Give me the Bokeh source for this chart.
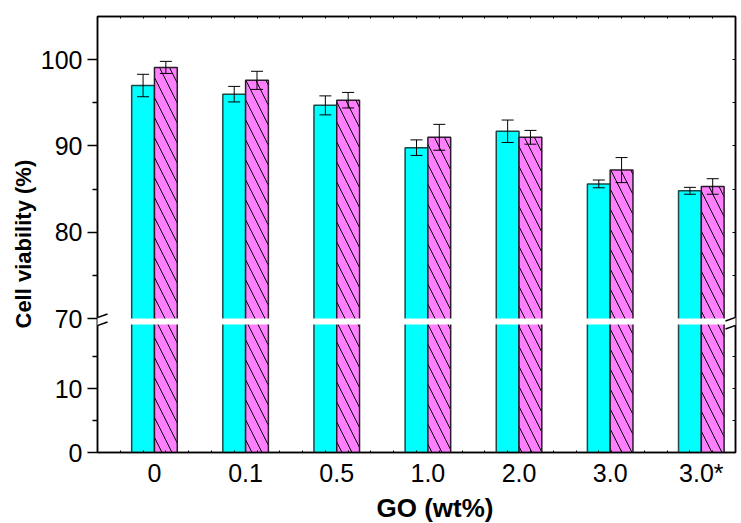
from bokeh.plotting import figure
from bokeh.models import (Range1d, LinearAxis, FixedTicker, CustomJSTickFormatter,
                          ColumnDataSource, Whisker, TeeHead, PolyAnnotation, Arrow, Title)
from bokeh.embed import file_html
from bokeh.resources import INLINE

# ---------------- data ----------------
categories = ["0", "0.1", "0.5", "1.0", "2.0", "3.0", "3.0*"]
cyan_vals = [97.0, 96.0, 94.7, 89.8, 91.7, 85.6, 84.8]
cyan_err = [1.3, 0.9, 1.1, 0.9, 1.3, 0.45, 0.4]
mag_vals = [99.1, 97.6, 95.3, 91.0, 91.0, 87.2, 85.3]
mag_err = [0.7, 1.05, 0.9, 1.5, 0.8, 1.45, 0.9]

upper_ticks = [70, 80, 90, 100]
upper_minor = [75, 85, 95]
lower_ticks = [0, 10]
lower_minor = [5, 15]

x_title = "GO (wt%)"
y_title = "Cell viability (%)"

# ---------------- broken-axis geometry ----------------
UP_MIN, UP_MAX = 70, 105
LOW_MIN, LOW_MAX = 0, 20
FRAME_W, FRAME_H = 638, 436
UP_PX, LOW_PX, GAP_PX = 302, 128, 6

up_per_px = (UP_MAX - UP_MIN) / UP_PX
low_per_px = (LOW_MAX - LOW_MIN) / LOW_PX
y_lo = UP_MIN - (LOW_PX + GAP_PX) * up_per_px
low_hi = LOW_MAX + (GAP_PX + UP_PX) * low_per_px


def low_to_up(v):
    return y_lo + (v - LOW_MIN) / low_per_px * up_per_px


X0, X1 = 0.375, len(categories) + 0.375
BW = 0.25
xs = list(range(1, len(categories) + 1))
x_per_px = (X1 - X0) / FRAME_W

FONT = "Liberation Sans"

p = figure(x_range=Range1d(X0, X1), y_range=Range1d(y_lo, UP_MAX),
           frame_width=FRAME_W, frame_height=FRAME_H,
           min_border_left=97, min_border_top=16, min_border_right=6,
           min_border_bottom=70,
           x_axis_location=None, y_axis_location=None,
           output_backend="svg", toolbar_location=None)
p.extra_y_ranges = {"low": Range1d(LOW_MIN, low_hi)}
p.grid.visible = False
p.outline_line_color = "black"
p.outline_line_width = 1.5
p.background_fill_color = "white"
p.border_fill_color = "white"

cyan_src = ColumnDataSource(dict(
    x=[x - BW / 2 for x in xs], top=cyan_vals,
    upper=[v + e for v, e in zip(cyan_vals, cyan_err)],
    lower=[v - e for v, e in zip(cyan_vals, cyan_err)]))
mag_src = ColumnDataSource(dict(
    x=[x + BW / 2 for x in xs], top=mag_vals,
    upper=[v + e for v, e in zip(mag_vals, mag_err)],
    lower=[v - e for v, e in zip(mag_vals, mag_err)]))

gap_low_top = LOW_MAX + GAP_PX * low_per_px   # low-range value of the upper segment's bottom

cyan_line = "#1d4848"
mag_line = "#2a1a2a"
HATCH = dict(hatch_pattern="\\", hatch_color="black", hatch_weight=1, hatch_scale=20)
# lower segment bars
p.vbar(x="x", width=BW, bottom=LOW_MIN, top=gap_low_top - GAP_PX * low_per_px / 2,
       source=cyan_src, y_range_name="low",
       fill_color="#00FFFF", line_color=cyan_line, line_width=1.5)
p.vbar(x="x", width=BW, bottom=LOW_MIN, top=gap_low_top - GAP_PX * low_per_px / 2,
       source=mag_src, y_range_name="low",
       fill_color="#FF80FF", line_color=mag_line, line_width=1.5, **HATCH)
# upper segment bars
p.vbar(x="x", width=BW, bottom=UP_MIN - GAP_PX * up_per_px / 2, top="top",
       source=cyan_src,
       fill_color="#00FFFF", line_color=cyan_line, line_width=1.5)
p.vbar(x="x", width=BW, bottom=UP_MIN - GAP_PX * up_per_px / 2, top="top",
       source=mag_src,
       fill_color="#FF80FF", line_color=mag_line, line_width=1.5, **HATCH)
# white gap of the axis break
p.quad(left=X0, right=X1, bottom=LOW_MAX, top=gap_low_top, y_range_name="low",
       fill_color="white", line_color=None)

for src in (cyan_src, mag_src):
    w = Whisker(source=src, base="x", upper="upper", lower="lower",
                line_color="black", line_width=1,
                upper_head=TeeHead(size=12, line_color="black", line_width=1),
                lower_head=TeeHead(size=12, line_color="black", line_width=1),
                level="overlay")
    p.add_layout(w)

# ---------------- axes ----------------
fmt = CustomJSTickFormatter(
    args=dict(y0=y_lo, s=low_per_px / up_per_px, brk=(UP_MIN + low_to_up(LOW_MAX)) / 2),
    code="return tick < brk ? String(Math.round((tick - y0) * s)) : String(Math.round(tick));")

left = LinearAxis(
    ticker=FixedTicker(ticks=[low_to_up(t) for t in lower_ticks] + upper_ticks,
                       minor_ticks=[low_to_up(t) for t in lower_minor] + upper_minor),
    formatter=fmt,
    major_label_text_font=FONT, major_label_text_font_size="25px",
    major_label_text_color="black", major_label_standoff=5,
    major_tick_out=10, major_tick_in=0, minor_tick_out=5, minor_tick_in=0,
    axis_line_width=1.5, major_tick_line_width=1.5, minor_tick_line_width=1.5)
p.add_layout(left, "left")

quarter = [X0 + 0.25 * k for k in range(1, int((X1 - X0) / 0.25))]
bottom = LinearAxis(
    ticker=FixedTicker(ticks=xs, minor_ticks=quarter),
    major_label_overrides={x: c for x, c in zip(xs, categories)},
    major_label_text_font=FONT, major_label_text_font_size="25px",
    major_label_text_color="black", major_label_standoff=6,
    major_tick_out=0, major_tick_in=0, minor_tick_out=0, minor_tick_in=2,
    axis_line_width=1.5, minor_tick_line_width=1)
p.add_layout(bottom, "below")

# axis titles as Titles so that they can be offset like in the original
p.add_layout(Title(text=x_title, align="left", offset=279, standoff=2,
                   text_font=FONT, text_font_style="bold", text_font_size="26px",
                   text_color="black"), "below")
p.add_layout(Title(text=y_title, align="left", offset=124, standoff=4,
                   text_font=FONT, text_font_style="bold", text_font_size="22px",
                   text_color="black"), "left")

top_ax = LinearAxis(ticker=FixedTicker(ticks=[], minor_ticks=quarter),
                    minor_tick_out=0, minor_tick_in=2, minor_tick_line_width=1,
                    axis_line_width=1.5, major_label_text_font_size="0px")
p.add_layout(top_ax, "above")

right_ax = LinearAxis(
    ticker=FixedTicker(ticks=[], minor_ticks=[low_to_up(t) for t in [5, 10, 15]]
                       + [75, 80, 85, 90, 95, 100]),
    minor_tick_out=0, minor_tick_in=3, minor_tick_line_width=1.2,
    axis_line_width=1.5, major_label_text_font_size="0px")
p.add_layout(right_ax, "right")

# ---------------- break marks ----------------
dx = 10 * x_per_px
yc = UP_MIN - GAP_PX / 2 * up_per_px
sep = 4 * up_per_px
rise = 3.5 * up_per_px
for ax_x in (X0, X1):
    p.add_layout(PolyAnnotation(
        xs=[ax_x - dx, ax_x + dx, ax_x + dx, ax_x - dx],
        ys=[yc - sep - rise, yc - sep + rise, yc + sep + rise, yc + sep - rise],
        fill_color="white", fill_alpha=1, line_color=None, level="overlay"))
    for sgn in (-1, 1):
        p.add_layout(Arrow(x_start=ax_x - dx, y_start=yc + sgn * sep - rise,
                           x_end=ax_x + dx, y_end=yc + sgn * sep + rise,
                           end=None, start=None, line_color="black", line_width=1.5,
                           level="overlay"))

open("out.html", "w").write(file_html(p, INLINE))
